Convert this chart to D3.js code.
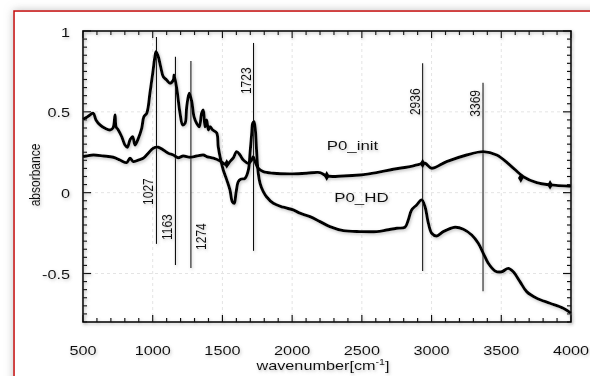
<!DOCTYPE html>
<html><head><meta charset="utf-8">
<script src="https://cdn.jsdelivr.net/npm/d3@7"></script>
<style>html,body{margin:0;padding:0;background:#fff;}svg{display:block;font-family:"Liberation Sans",Arial,sans-serif;}</style>
</head><body>
<svg id="c" width="590" height="376"></svg>
<script>
// ---------- data ----------
const seriesNames = ["P0_init", "P0_HD"];
const hdWave = [500,527,550,574,593,622,658,693,715,730,737,753,778,801,818,837,856,873,897,921,937,957,968,980,1000,1016,1024,1040,1057,1076,1100,1124,1148,1153,1172,1196,1215,1232,1244,1262,1280,1296,1315,1334,1351,1363,1375,1387,1399,1411,1430,1459,1470,1488,1506,1531,1554,1571,1585,1597,1614,1631,1662,1686,1698,1710,1717,1726,1736,1746,1757,1770,1793,1816,1865,1937,2008,2056,2128,2200,2271,2367,2487,2606,2678,2750,2809,2833,2857,2893,2929,2953,2977,3001,3037,3084,3168,3228,3288,3335,3371,3407,3455,3503,3550,3586,3634,3682,3754,3849,3945,4000];
const hdAbs = [0.454,0.466,0.481,0.491,0.450,0.419,0.398,0.388,0.400,0.481,0.408,0.388,0.346,0.295,0.281,0.326,0.346,0.295,0.336,0.398,0.470,0.491,0.532,0.615,0.738,0.841,0.872,0.841,0.779,0.717,0.697,0.677,0.697,0.728,0.646,0.491,0.419,0.429,0.532,0.615,0.563,0.470,0.429,0.408,0.491,0.511,0.408,0.450,0.388,0.408,0.388,0.369,0.284,0.202,0.140,0.079,0.017,-0.056,-0.066,-0.004,0.068,0.083,0.089,0.140,0.244,0.367,0.429,0.439,0.388,0.244,0.120,0.058,0.006,-0.025,-0.066,-0.090,-0.107,-0.127,-0.148,-0.179,-0.210,-0.235,-0.241,-0.241,-0.231,-0.220,-0.214,-0.169,-0.107,-0.076,-0.045,-0.087,-0.189,-0.251,-0.268,-0.241,-0.214,-0.226,-0.262,-0.313,-0.375,-0.437,-0.484,-0.489,-0.468,-0.489,-0.550,-0.612,-0.653,-0.684,-0.715,-0.745];
const initWave = [500,526,574,646,717,765,813,837,861,897,932,968,1004,1040,1076,1112,1148,1183,1219,1267,1315,1363,1387,1435,1483,1506,1531,1554,1578,1602,1626,1650,1686,1710,1721,1734,1757,1793,1865,1985,2104,2200,2248,2367,2487,2606,2725,2845,2917,2953,3001,3108,3252,3371,3467,3562,3658,3754,3849,4000];
const initAbs = [0.223,0.227,0.233,0.227,0.219,0.202,0.186,0.213,0.192,0.202,0.213,0.244,0.275,0.281,0.264,0.244,0.233,0.216,0.227,0.219,0.227,0.233,0.223,0.213,0.196,0.182,0.171,0.192,0.215,0.254,0.233,0.202,0.182,0.202,0.223,0.192,0.151,0.130,0.120,0.116,0.120,0.124,0.103,0.103,0.109,0.124,0.145,0.161,0.177,0.182,0.151,0.192,0.233,0.254,0.233,0.171,0.099,0.062,0.048,0.040];
const initMarkWave = [1531, 2248, 2936, 3640, 3850];
const initMarkAbs = [0.178, 0.103, 0.180, 0.090, 0.048];
const peakWave = [1027, 1163, 1274, 1723, 2936, 3369];
const peakTop = [0.963, 0.840, 0.815, 0.926, 0.800, 0.680];
const peakBottom = [-0.317, -0.447, -0.466, -0.360, -0.484, -0.610];
const peakLabelAt = [-0.076, -0.293, -0.354, 0.610, 0.480, 0.470];
const peakLabelSide = ["left", "left", "right", "left", "left", "left"];
const seriesLabelWave = [2248, 2302];
const seriesLabelAbs = [0.263, -0.056];
const xTickValues = [500, 1000, 1500, 2000, 2500, 3000, 3500, 4000];
const xTickLabels = ["500", "1000", "1500", "2000", "2500", "3000", "3500", "4000"];
const yTickValues = [-0.5, 0, 0.5, 1];
const yTickLabels = ["-0.5", "0", "0.5", "1"];
const xTitle = "wavenumber[cm";
const xTitleSup = "-1";
const yTitle = "absorbance";

// ---------- drawing ----------
const svg = d3.select("#c");
const SX = 1.25; // horizontal text stretch
const x = d3.scaleLinear().domain([500, 4000]).range([83, 571]);
const y = d3.scaleLinear().domain([-0.8, 1]).range([322, 31]);

const defs = svg.append("defs");
const sh = defs.append("filter").attr("id", "sh").attr("x", "-20%").attr("y", "-20%").attr("width", "140%").attr("height", "140%");
sh.append("feDropShadow").attr("dx", 1).attr("dy", 1.5).attr("stdDeviation", 1.6).attr("flood-color", "#777").attr("flood-opacity", 0.45);
const fsh = defs.append("filter").attr("id", "fsh").attr("x", "-10%").attr("y", "-10%").attr("width", "120%").attr("height", "120%");
fsh.append("feDropShadow").attr("dx", 0).attr("dy", 0).attr("stdDeviation", 4).attr("flood-color", "#999").attr("flood-opacity", 0.6);

// frame
svg.append("rect").attr("x", 14).attr("y", 11).attr("width", 600).attr("height", 400)
  .attr("fill", "#fff").attr("stroke", "#c81010").attr("stroke-width", 1.6).attr("filter", "url(#fsh)");

const g = svg.append("g");

// faint grid
const minorX = d3.range(500, 4001, 100);
const minorY = d3.range(-0.8, 1.0001, 0.05).map(v => Math.round(v * 100) / 100);
g.append("g").selectAll("line").data(xTickValues.slice(1, -1)).join("line")
  .attr("x1", d => x(d)).attr("x2", d => x(d)).attr("y1", y(1)).attr("y2", y(-0.8))
  .attr("stroke", "#e4e4e4").attr("stroke-dasharray", "3,3").attr("stroke-width", 1);
g.append("g").selectAll("line").data(yTickValues.slice(0, -1)).join("line")
  .attr("y1", d => y(d)).attr("y2", d => y(d)).attr("x1", x(500)).attr("x2", x(4000))
  .attr("stroke", "#e4e4e4").attr("stroke-dasharray", "3,3").attr("stroke-width", 1);

// ticks (inward, all four sides)
const isMajX = d => xTickValues.includes(d);
const isMajY = d => yTickValues.some(v => Math.abs(v - d) < 1e-6);
const tk = g.append("g").attr("stroke", "#111").attr("stroke-width", 1.2).attr("filter", "url(#sh)");
minorX.forEach(d => {
  const L = isMajX(d) ? 7 : 4;
  tk.append("line").attr("x1", x(d)).attr("x2", x(d)).attr("y1", y(-0.8)).attr("y2", y(-0.8) - L);
  tk.append("line").attr("x1", x(d)).attr("x2", x(d)).attr("y1", y(1)).attr("y2", y(1) + L);
});
minorY.forEach(d => {
  const L = isMajY(d) ? 8 : 4;
  tk.append("line").attr("y1", y(d)).attr("y2", y(d)).attr("x1", x(500)).attr("x2", x(500) + L);
  tk.append("line").attr("y1", y(d)).attr("y2", y(d)).attr("x1", x(4000)).attr("x2", x(4000) - L);
});
g.append("rect").attr("x", x(500)).attr("y", y(1)).attr("width", x(4000) - x(500)).attr("height", y(-0.8) - y(1))
  .attr("fill", "none").attr("stroke", "#000").attr("stroke-width", 1.6).attr("filter", "url(#sh)");

// peak lines
const pk = g.append("g").attr("filter", "url(#sh)");
peakWave.forEach((w, i) => {
  pk.append("line").attr("x1", x(w)).attr("x2", x(w)).attr("y1", y(peakTop[i])).attr("y2", y(peakBottom[i]))
    .attr("stroke", "#111").attr("stroke-width", 1.1);
  const bx = peakLabelSide[i] === "left" ? x(w) - 3 : x(w) + 15;
  pk.append("text").attr("transform", `translate(${bx},${y(peakLabelAt[i])}) scale(${SX},1) rotate(-90)`)
    .attr("font-size", 12).attr("fill", "#111").text(String(w));
});

// curves
const line = d3.line().x(d => x(d[0])).y(d => y(d[1])).curve(d3.curveCatmullRom.alpha(0.5));
const curves = g.append("g").attr("filter", "url(#sh)");
curves.append("path").datum(initWave.map((w, i) => [w, initAbs[i]])).attr("d", line)
  .attr("fill", "none").attr("stroke", "#000").attr("stroke-width", 2.9).attr("stroke-linejoin", "round");
curves.append("path").datum(hdWave.map((w, i) => [w, hdAbs[i]])).attr("d", line)
  .attr("fill", "none").attr("stroke", "#000").attr("stroke-width", 2.9).attr("stroke-linejoin", "round");
curves.selectAll("path.m").data(initMarkWave.map((w, i) => [w, initMarkAbs[i]])).join("path").attr("class", "m")
  .attr("transform", d => `translate(${x(d[0])},${y(d[1])})`)
  .attr("d", d3.symbol().type(d3.symbolDiamond).size(28)).attr("fill", "#000");

// series labels
const tx = g.append("g").attr("filter", "url(#sh)").attr("fill", "#111");
seriesNames.forEach((n, i) => {
  tx.append("text").attr("transform", `translate(${x(seriesLabelWave[i])},${y(seriesLabelAbs[i])}) scale(${SX},1)`)
    .attr("font-size", 13.5).text(n);
});

// tick labels
xTickValues.forEach((v, i) => {
  tx.append("text").attr("transform", `translate(${x(v)},354.5) scale(${SX},1)`)
    .attr("text-anchor", "middle").attr("font-size", 13).text(xTickLabels[i]);
});
yTickValues.forEach((v, i) => {
  tx.append("text").attr("transform", `translate(70,${y(v) + 5.5}) scale(${SX},1)`)
    .attr("text-anchor", "end").attr("font-size", 13).text(yTickLabels[i]);
});

// axis titles
const xt = tx.append("text").attr("transform", `translate(323,370) scale(${SX},1)`)
  .attr("text-anchor", "middle").attr("font-size", 13);
xt.append("tspan").text(xTitle);
xt.append("tspan").attr("font-size", 8.5).attr("dy", -5).text(xTitleSup);
xt.append("tspan").attr("dy", 5).text("]");
tx.append("text").attr("transform", `translate(40,175) scale(${SX},1) rotate(-90)`)
  .attr("text-anchor", "middle").attr("font-size", 12).text(yTitle);
</script>
</body></html>
